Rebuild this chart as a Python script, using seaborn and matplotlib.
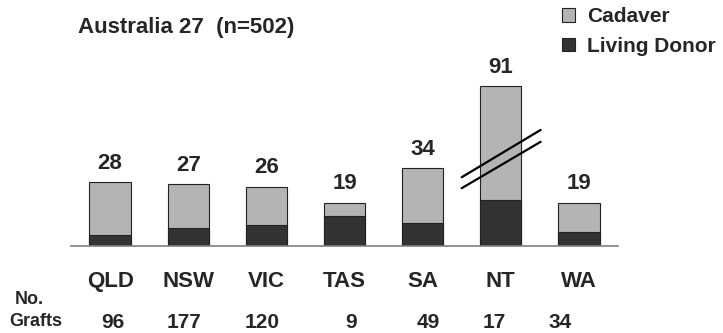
import matplotlib
matplotlib.use("Agg")
import matplotlib.pyplot as plt
import matplotlib.patches as mpatches
import pandas as pd
import seaborn as sns

# data
states = ['QLD', 'NSW', 'VIC', 'TAS', 'SA', 'NT', 'WA']
total_pct = [28, 27, 26, 19, 34, 91, 19]
living_pct = [5, 8, 9, 13, 10, 20, 6]
grafts = [96, 177, 120, 9, 49, 17, 34]
# NT bar is drawn cut off (axis break)
break_cap = 70
# small x shifts of the graft counts as they sit on the slide
graft_shift = [0.03, -0.06, -0.05, 0.08, 0.07, -0.08, -0.24]

sns.set_style('white')
plt.rcParams['font.family'] = ['Liberation Sans', 'DejaVu Sans']
plt.rcParams['font.weight'] = 'bold'

df = pd.DataFrame({'state': states, 'total': total_pct, 'living': living_pct})
df['shown'] = df['total'].clip(upper=break_cap)

light = '#b4b4b4'
dark = '#333333'

fig = plt.figure(figsize=(7.23, 3.33), dpi=100)
ax = fig.add_axes([71 / 723, 87 / 333, 547 / 723, 186 / 333])

sns.barplot(data=df, x='state', y='shown', color=light, width=0.53,
            edgecolor='#222222', linewidth=0.8, saturation=1, ax=ax)
sns.barplot(data=df, x='state', y='living', color=dark, width=0.53,
            edgecolor='#222222', linewidth=0.8, saturation=1, ax=ax)

ax.set_xlim(-0.5, 6.5)
ax.set_ylim(0, 81.4)
ax.set_xlabel('')
ax.set_ylabel('')
ax.set_yticks([])
for s in ['top', 'right', 'left']:
    ax.spines[s].set_visible(False)
ax.spines['bottom'].set_color('#808080')
ax.spines['bottom'].set_linewidth(1.2)
ax.tick_params(axis='x', length=0, pad=18, labelsize=16)
for lab in ax.get_xticklabels():
    lab.set_fontweight('bold')

# totals above the bars
for i, (shown, tot) in enumerate(zip(df['shown'], total_pct)):
    ax.text(i, shown + 3.6, str(tot), ha='center', va='bottom',
            fontsize=16, fontweight='bold')

# axis break marks on NT
nt = states.index('NT')
ax.plot([nt - 0.5, nt + 0.51], [30.1, 50.8], color='black', lw=1.6, clip_on=False)
ax.plot([nt - 0.5, nt + 0.51], [25.3, 45.6], color='black', lw=1.6, clip_on=False)

# number of grafts row
for i, (g, dx) in enumerate(zip(grafts, graft_shift)):
    ax.text(i + dx, -0.409, str(g), transform=ax.get_xaxis_transform(),
            ha='center', va='center', fontsize=15, fontweight='bold')
fig.text(29 / 723, 1 - 299 / 333, 'No.', ha='center', va='center',
         fontsize=13, fontweight='bold')
fig.text(36 / 723, 1 - 322 / 333, 'Grafts', ha='center', va='center',
         fontsize=13, fontweight='bold')

fig.text(78 / 723, 1 - 28 / 333, 'Australia 27  (n=502)', ha='left', va='center',
         fontsize=16, fontweight='bold')

handles = [mpatches.Patch(facecolor=light, edgecolor='#222222', lw=0.8, label='Cadaver'),
           mpatches.Patch(facecolor=dark, edgecolor='#222222', lw=0.8, label='Living Donor')]
fig.legend(handles=handles, loc='upper left', bbox_to_anchor=(555 / 723, 1.0),
           frameon=False, handlelength=0.6, handleheight=0.6,
           handletextpad=0.6, labelspacing=0.5, borderaxespad=0, borderpad=0.35,
           prop={'weight': 'bold', 'size': 15})

fig.savefig('out.png', dpi=100)
